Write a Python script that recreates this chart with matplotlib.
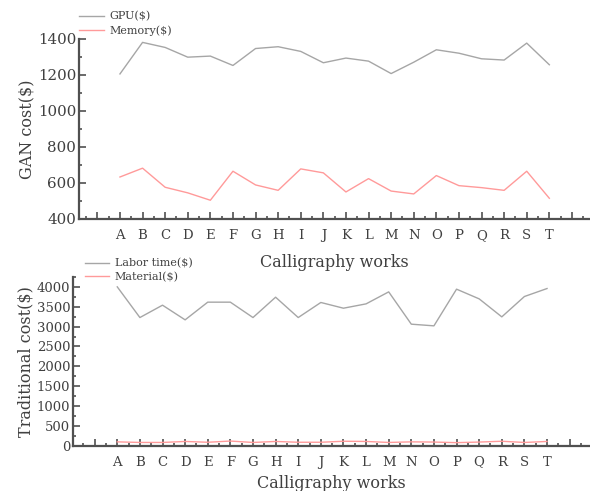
import matplotlib.pyplot as plt
from matplotlib.ticker import MultipleLocator
import numpy as np

plt.rcParams['font.family'] = ['DejaVu Serif']

works = list("ABCDEFGHIJKLMNOPQRST")

# GAN cost
gpu = [1205, 1380, 1352, 1298, 1304, 1252, 1346, 1356, 1330, 1267,
       1293, 1276, 1207, 1270, 1339, 1320, 1289, 1282, 1376, 1256]
memory = [633, 682, 576, 545, 504, 665, 589, 559, 678, 656,
          550, 624, 555, 539, 641, 585, 574, 559, 665, 515]

# Traditional cost
labor = [4000, 3228, 3539, 3170, 3615, 3615, 3228, 3740, 3228, 3607,
         3463, 3572, 3874, 3061, 3019, 3942, 3698, 3245, 3757, 3958]
material = [100, 85, 85, 110, 90, 120, 85, 110, 90, 90,
            115, 110, 85, 100, 95, 80, 95, 115, 85, 110]

gray = "#a6a6a6"
red = "#ff9a9a"
axc = "#505050"
txt = "#404040"

fig = plt.figure(figsize=(5.9, 4.91), dpi=100)
ax1 = fig.add_axes([0.134, 0.554, 0.866, 0.367])
ax2 = fig.add_axes([0.124, 0.092, 0.876, 0.344])

x = np.arange(len(works))


def style(ax, xl, ylim, major, minor, ylabel, ysize, xpad):
    ax.set_xlim(*xl)
    ax.set_ylim(*ylim)
    ax.set_xticks(np.arange(-1, 21))
    ax.set_xticklabels([""] + works + [""])
    ax.xaxis.set_minor_locator(MultipleLocator(0.5))
    ax.yaxis.set_major_locator(MultipleLocator(major))
    ax.yaxis.set_minor_locator(MultipleLocator(minor))
    for s in ["top", "right"]:
        ax.spines[s].set_visible(False)
    for s in ["left", "bottom"]:
        ax.spines[s].set_color(axc)
        ax.spines[s].set_linewidth(1.6)
    ax.tick_params(which="major", direction="in", length=5, width=1.2,
                   color=axc, labelcolor=txt)
    ax.tick_params(which="minor", direction="in", length=2.5, width=1.2,
                   color=axc)
    ax.tick_params(axis="y", labelsize=ysize, pad=2)
    ax.tick_params(axis="x", labelsize=9.5, pad=7)
    ax.set_xlabel("Calligraphy works", fontsize=11.5, color=txt, labelpad=xpad)
    ax.set_ylabel(ylabel, fontsize=11.5, color=txt, labelpad=2)


ax1.plot(x, gpu, color=gray, lw=1, label="GPU($)")
ax1.plot(x, memory, color=red, lw=1, label="Memory($)")
style(ax1, (-1.81, 20.8), (400, 1400), 200, 100, "GAN cost($)", 10.8, 9)
ax1.legend(loc="upper left", bbox_to_anchor=(0.134, 0.977),
           bbox_transform=fig.transFigure, frameon=False,
           fontsize=8, labelcolor=txt, handlelength=2.2, handletextpad=0.5,
           labelspacing=0.3, borderpad=0, borderaxespad=0)

ax2.plot(x, labor, color=gray, lw=1, label="Labor time($)")
ax2.plot(x, material, color=red, lw=1, label="Material($)")
style(ax2, (-1.95, 20.9), (0, 4250), 500, 250, "Traditional cost($)", 9.5, 5)
ax2.legend(loc="upper left", bbox_to_anchor=(0.144, 0.474),
           bbox_transform=fig.transFigure, frameon=False,
           fontsize=8, labelcolor=txt, handlelength=2.2, handletextpad=0.5,
           labelspacing=0.3, borderpad=0, borderaxespad=0)

fig.savefig("out.png", dpi=100)
